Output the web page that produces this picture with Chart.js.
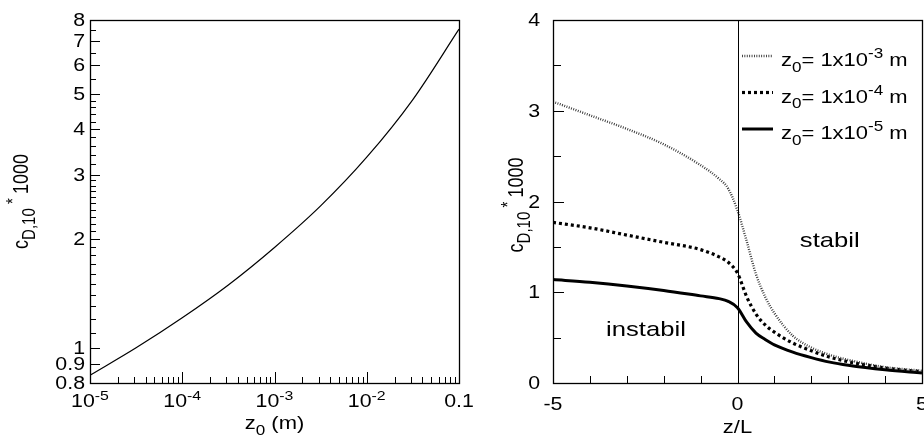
<!DOCTYPE html>
<html>
<head>
<meta charset="utf-8">
<script src="https://cdn.jsdelivr.net/npm/chart.js@4/dist/chart.umd.min.js"></script>
<style>
  html, body { margin: 0; padding: 0; background: #fff; }
  #wrap { position: relative; width: 924px; height: 441px; }
  canvas { position: absolute; top: 0; }
</style>
</head>
<body>
<div id="wrap">
  <canvas id="chartLeft" width="480" height="441" style="left:0"></canvas>
  <canvas id="chartRight" width="454" height="441" style="left:470px"></canvas>
</div>
<script>
// left panel: c_D,10 over z0 (log-log)
const z0Values = [1e-5, 3.16e-5, 1e-4, 3.16e-4, 1e-3, 3.16e-3, 1e-2, 3.16e-2, 0.1];
const cdByZ0 = [0.84, 1.00, 1.21, 1.49, 1.89, 2.46, 3.35, 4.83, 7.55];

const leftYMajor = [0.8, 0.9, 1, 2, 3, 4, 5, 6, 7, 8];
const leftYMinor = [1.1, 1.2, 1.3, 1.4, 1.5, 1.6, 1.7, 1.8, 1.9, 2.1, 2.2, 2.3, 2.4, 2.5, 2.6, 2.7, 2.8, 2.9,
                    3.2, 3.4, 3.6, 3.8, 4.2, 4.4, 4.6, 4.8, 5.5, 6.5, 7.5];
const leftXMajor = [1e-5, 1e-4, 1e-3, 1e-2, 0.1];
const leftXLabels = [['10', '-5'], ['10', '-4'], ['10', '-3'], ['10', '-2'], ['0.1', '']];

// right panel: c_D,10 over z/L for three roughness lengths
const zLValues = [-5, -4, -3, -2, -1, -0.5, -0.25, 0, 0.25, 0.5, 0.75, 1, 1.5, 2, 2.5, 3, 4, 5];
const cdZ0e3 = [3.10, 2.95, 2.80, 2.63, 2.40, 2.25, 2.14, 1.90, 1.56, 1.20, 0.95, 0.77, 0.52, 0.39, 0.31, 0.255, 0.175, 0.135];
const cdZ0e4 = [1.77, 1.71, 1.63, 1.55, 1.47, 1.39, 1.33, 1.21, 0.95, 0.76, 0.64, 0.56, 0.44, 0.355, 0.285, 0.235, 0.165, 0.125];
const cdZ0e5 = [1.14, 1.11, 1.07, 1.02, 0.96, 0.93, 0.90, 0.83, 0.67, 0.55, 0.48, 0.42, 0.34, 0.28, 0.23, 0.195, 0.145, 0.11];
const seriesExp = ['-3', '-4', '-5'];

const rightYMajor = [0, 1, 2, 3, 4];
const rightYMinor = [0.5, 1.5, 2.5, 3.5];
const rightXTicks = [-4, -3, -2, -1, 1, 2, 3, 4];
const rightXLabels = [-5, 0, 5];

const FONT = "'Liberation Sans', Arial, Helvetica, sans-serif";
const STRETCH = 1.22; // text in the picture is a bit wider than normal

function partFont(kind, size, ratio) {
    return (kind === 'n' ? size : Math.round(size * ratio)) + 'px ' + FONT;
}

// parts: [[text, 'n'|'sub'|'sup'], ...]
function drawRich(ctx, parts, x, y, size, align, rotate, ratio) {
    ratio = ratio || 0.72;
    ctx.save();
    ctx.translate(x, y);
    if (rotate) { ctx.rotate(-Math.PI / 2); ctx.scale(1, STRETCH); }
    else ctx.scale(STRETCH, 1);
    let w = 0;
    parts.forEach(([t, k]) => { ctx.font = partFont(k, size, ratio); w += ctx.measureText(t).width; });
    let cx = align === 'center' ? -w / 2 : align === 'right' ? -w : 0;
    ctx.fillStyle = '#000';
    ctx.textBaseline = 'alphabetic';
    ctx.textAlign = 'left';
    parts.forEach(([t, k]) => {
        ctx.font = partFont(k, size, ratio);
        const dy = k === 'sub' ? size * 0.32 : k === 'sup' ? -size * 0.42 : 0;
        ctx.fillText(t, cx, dy);
        cx += ctx.measureText(t).width;
    });
    ctx.restore();
}

function hLine(ctx, x1, x2, y, w) {
    ctx.lineWidth = w || 1;
    ctx.beginPath();
    ctx.moveTo(x1, Math.round(y) + 0.5);
    ctx.lineTo(x2, Math.round(y) + 0.5);
    ctx.stroke();
}
function vLine(ctx, x, y1, y2, w) {
    ctx.lineWidth = w || 1;
    ctx.beginPath();
    ctx.moveTo(Math.round(x) + 0.5, y1);
    ctx.lineTo(Math.round(x) + 0.5, y2);
    ctx.stroke();
}

const cdTitle = [['c', 'n'], ['D,10', 'sub'], [' * ', 'sup'], ['1000', 'n']];

const leftDecor = {
    id: 'leftDecor',
    afterDraw(chart) {
        const { ctx, chartArea: a, scales: { x, y } } = chart;
        ctx.save();
        ctx.strokeStyle = '#000';
        ctx.lineWidth = 1.3;
        ctx.strokeRect(Math.round(a.left) + 0.5, Math.round(a.top) + 0.5, Math.round(a.right - a.left), Math.round(a.bottom - a.top));

        leftYMajor.forEach(v => hLine(ctx, a.left, a.left + 10, y.getPixelForValue(v)));
        leftYMinor.forEach(v => hLine(ctx, a.left, a.left + 6, y.getPixelForValue(v)));
        for (let d = -5; d < -1; d++) {
            for (let k = 2; k <= 9; k++) vLine(ctx, x.getPixelForValue(k * Math.pow(10, d)), a.bottom, a.bottom - 6);
        }
        leftXMajor.forEach(v => vLine(ctx, x.getPixelForValue(v), a.bottom, a.bottom - 11));

        leftYMajor.forEach(v => drawRich(ctx, [[String(v), 'n']], 85, y.getPixelForValue(v) + 6, 17.5, 'right'));
        leftXMajor.forEach((v, i) => {
            const [base, exp] = leftXLabels[i];
            const parts = exp ? [[base, 'n'], [exp, 'sup']] : [[base, 'n']];
            drawRich(ctx, parts, x.getPixelForValue(v), 407, 17.5, 'center');
        });
        drawRich(ctx, [['z', 'n'], ['0', 'sub'], [' (m)', 'n']], (a.left + a.right) / 2, 429, 18, 'center', false, 0.8);
        drawRich(ctx, cdTitle, 28, (a.top + a.bottom) / 2, 18, 'center', true, 0.85);
        ctx.restore();
    }
};

new Chart(document.getElementById('chartLeft'), {
    type: 'line',
    data: {
        datasets: [{
            data: z0Values.map((v, i) => ({ x: v, y: cdByZ0[i] })),
            borderColor: '#000',
            borderWidth: 1.2,
            pointRadius: 0,
            cubicInterpolationMode: 'monotone'
        }]
    },
    options: {
        responsive: false,
        animation: false,
        layout: { padding: { left: 90, top: 20, right: 21, bottom: 58 } },
        plugins: { legend: { display: false }, tooltip: { enabled: false } },
        scales: {
            x: { type: 'logarithmic', min: 1e-5, max: 0.1, display: false },
            y: { type: 'logarithmic', min: 0.8, max: 8, display: false }
        }
    },
    plugins: [leftDecor]
});

const rightStyles = [
    { borderWidth: 2.4, borderDash: [0.9, 1.5], color: '#333' },
    { borderWidth: 3.2, borderDash: [3, 3], color: '#000' },
    { borderWidth: 3, borderDash: [], color: '#000' }
];

const rightDecor = {
    id: 'rightDecor',
    afterDraw(chart) {
        const { ctx, chartArea: a, scales: { x, y } } = chart;
        ctx.save();
        ctx.strokeStyle = '#000';
        ctx.lineWidth = 1.3;
        ctx.strokeRect(Math.round(a.left) + 0.5, Math.round(a.top) + 0.5, Math.round(a.right - a.left), Math.round(a.bottom - a.top));
        vLine(ctx, x.getPixelForValue(0), a.top, a.bottom, 1);

        rightYMajor.forEach(v => hLine(ctx, a.left, a.left + 11, y.getPixelForValue(v)));
        rightYMinor.forEach(v => hLine(ctx, a.left, a.left + 8, y.getPixelForValue(v)));
        rightXTicks.forEach(v => vLine(ctx, x.getPixelForValue(v), a.bottom, a.bottom - 7));

        rightYMajor.forEach(v => drawRich(ctx, [[String(v), 'n']], 70, y.getPixelForValue(v) + 6, 17.5, 'right'));
        rightXLabels.forEach(v => drawRich(ctx, [[String(v), 'n']], x.getPixelForValue(v), 410, 17.5, 'center'));
        drawRich(ctx, [['z/L', 'n']], (a.left + a.right) / 2, 433, 18, 'center');
        drawRich(ctx, cdTitle, 53, 205, 18, 'center', true, 0.85);

        drawRich(ctx, [['stabil', 'n']], x.getPixelForValue(2.5), y.getPixelForValue(1.5), 21, 'center');
        drawRich(ctx, [['instabil', 'n']], x.getPixelForValue(-2.48), y.getPixelForValue(0.52), 21, 'center');

        // legend
        chart.data.datasets.forEach((ds, i) => {
            const ly = 56 + i * 36.5;
            ctx.save();
            ctx.strokeStyle = ds.borderColor;
            ctx.lineWidth = ds.borderWidth;
            ctx.setLineDash(ds.borderDash);
            ctx.beginPath();
            ctx.moveTo(272, ly);
            ctx.lineTo(303, ly);
            ctx.stroke();
            ctx.restore();
            drawRich(ctx, [['z', 'n'], ['0', 'sub'], ['= 1x10', 'n'], [seriesExp[i], 'sup'], [' m', 'n']], 311, ly + 10, 18, 'left', false, 0.76);
        });
        ctx.restore();
    }
};

new Chart(document.getElementById('chartRight'), {
    type: 'line',
    data: {
        datasets: [cdZ0e3, cdZ0e4, cdZ0e5].map((vals, i) => ({
            data: zLValues.map((v, j) => ({ x: v, y: vals[j] })),
            borderColor: rightStyles[i].color,
            borderWidth: rightStyles[i].borderWidth,
            borderDash: rightStyles[i].borderDash,
            pointRadius: 0,
            cubicInterpolationMode: 'monotone'
        }))
    },
    options: {
        responsive: false,
        animation: false,
        layout: { padding: { left: 83, top: 20, right: 2, bottom: 58 } },
        plugins: { legend: { display: false }, tooltip: { enabled: false } },
        scales: {
            x: { type: 'linear', min: -5, max: 5, display: false },
            y: { type: 'linear', min: 0, max: 4, display: false }
        }
    },
    plugins: [rightDecor]
});
</script>
</body>
</html>
